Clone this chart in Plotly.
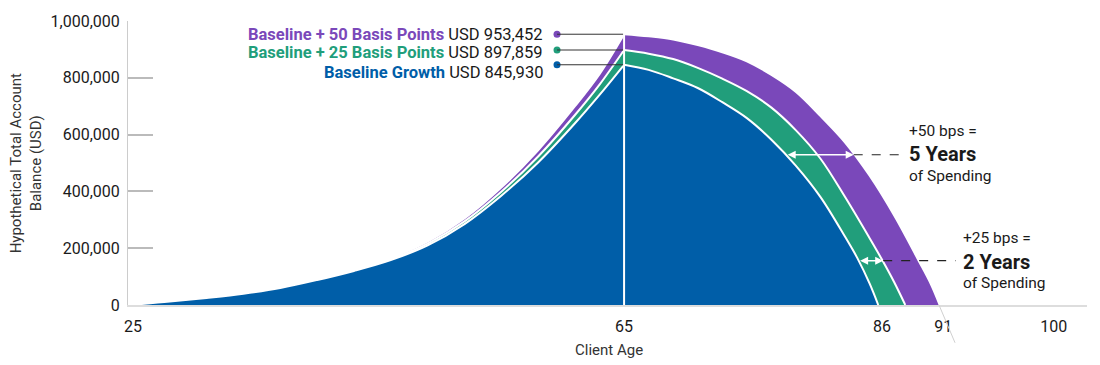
import plotly.graph_objects as go

# ---------------- data ----------------
acc_ages = [25, 28, 31, 34, 37, 40, 43, 46, 49, 52, 55, 58, 61, 63, 65]
acc_base = [1000, 12000, 25000, 40000, 60000, 88000, 120000, 158000, 210000,
            285000, 385000, 502000, 640000, 740000, 845930]
acc_25 = [1000, 12100, 25300, 40600, 61100, 89700, 122600, 162000, 216300,
          294500, 399000, 523000, 669000, 776000, 897859]
acc_50 = [1000, 12200, 25600, 41200, 62300, 91500, 125300, 166000, 222800,
          304500, 413500, 545000, 700000, 813000, 953452]

dec_base_ages = [65, 67, 69, 71, 73, 75, 77, 79, 81, 83, 84, 85, 85.7]
dec_base = [845930, 828000, 798000, 764000, 714000, 658000, 582000, 490000,
            380000, 240000, 165000, 75000, 0]
dec_25_ages = [65, 67, 69, 71, 73, 75, 77, 79, 81, 83, 85, 86, 87, 87.9]
dec_25 = [897859, 885000, 866000, 835000, 797000, 753000, 695000, 615000,
          515000, 380000, 235000, 160000, 80000, 0]
dec_50_ages = [65, 67, 69, 71, 73, 75, 77, 79, 81, 83, 85, 87, 89, 90, 90.7]
dec_50 = [953452, 946000, 935000, 915000, 890000, 858000, 810000, 750000,
          665000, 572000, 455000, 315000, 155000, 72000, 0]

x_ticks = [25, 65, 86, 91, 100]
y_ticks = [0, 200000, 400000, 600000, 800000, 1000000]

series_names = ["Baseline + 50 Basis Points", "Baseline + 25 Basis Points", "Baseline Growth"]
series_end_values = [953452, 897859, 845930]
series_labels = ["USD 953,452", "USD 897,859", "USD 845,930"]

# ---------------- style ----------------
BLUE = "#005EA8"
GREEN = "#219E7B"
PURPLE = "#7A48BA"
FONT = "Roboto"
TXT = "#1a1a1a"

fig = go.Figure()

groups = [
    (PURPLE, acc_ages, acc_50, dec_50_ages, dec_50),
    (GREEN, acc_ages, acc_25, dec_25_ages, dec_25),
    (BLUE, acc_ages, acc_base, dec_base_ages, dec_base),
]
for color, ax_, ay_, dx_, dy_ in groups:
    for xs, ys in ((ax_, ay_), (dx_, dy_)):
        fig.add_trace(go.Scatter(
            x=xs, y=ys, mode="lines", fill="tozeroy", fillcolor=color,
            line=dict(color="white", width=2, shape="spline", smoothing=1.0),
            hoverinfo="skip", showlegend=False,
        ))

# dots for the labels
dot_x = 59.54
fig.add_trace(go.Scatter(
    x=[dot_x] * 3, y=series_end_values, mode="markers",
    marker=dict(color=[PURPLE, GREEN, BLUE], size=7),
    hoverinfo="skip", showlegend=False,
))

shapes = []
# leader lines
for v in series_end_values:
    shapes.append(dict(type="line", xref="x", yref="y", x0=dot_x, x1=65, y0=v, y1=v,
                       line=dict(color="#333333", width=1)))
# white vertical line at 65
shapes.append(dict(type="line", xref="x", yref="y", x0=65, x1=65, y0=0, y1=975000,
                   line=dict(color="white", width=2)))
# dashed connectors
shapes.append(dict(type="line", xref="x", yref="y", x0=83.7, x1=87.7, y0=529000, y1=529000,
                   line=dict(color="#222222", width=1.2, dash="dash")))
shapes.append(dict(type="line", xref="x", yref="y", x0=86.1, x1=92.0, y0=156000, y1=156000,
                   line=dict(color="#222222", width=1.2, dash="dash")))
# faint stray line below axis near 91
shapes.append(dict(type="line", xref="paper", yref="paper", x0=0.8457, x1=0.8624, y0=0, y1=-0.133,
                   line=dict(color="#d0d0d0", width=1)))

annotations = []
label_y = [954000, 888000, 818000]
for name, lab, col, ly in zip(series_names, series_labels, [PURPLE, GREEN, BLUE], label_y):
    annotations.append(dict(
        x=58.56, y=ly, xref="x", yref="y", xanchor="right", yanchor="middle",
        showarrow=False,
        text=f"<b><span style='color:{col}'>{name}</span></b> {lab}",
        font=dict(family=FONT, size=16.5, color=TXT),
    ))

# double-headed arrows
for x0, x1, yv in [(78.2, 83.7, 529000), (84.1, 86.1, 156000)]:
    annotations.append(dict(
        x=x1, y=yv, ax=x0, ay=yv, xref="x", yref="y", axref="x", ayref="y",
        text="", showarrow=True, arrowside="end+start", arrowhead=2,
        arrowsize=1, arrowwidth=1.6, arrowcolor="white", standoff=0, startstandoff=0,
    ))

# right-side texts
for xl, ys, big in [(88.0, (614000, 530000, 456000), ("+50 bps =", "5 Years")),
                    (92.4, (235000, 151000, 77000), ("+25 bps =", "2 Years"))]:
    annotations.append(dict(x=xl, y=ys[0], xref="x", yref="y", xanchor="left", yanchor="middle",
                            showarrow=False, text=big[0],
                            font=dict(family=FONT, size=15.5, color=TXT)))
    annotations.append(dict(x=xl, y=ys[1], xref="x", yref="y", xanchor="left", yanchor="middle",
                            showarrow=False, text=f"<b>{big[1]}</b>",
                            font=dict(family=FONT, size=20, color=TXT)))
    annotations.append(dict(x=xl, y=ys[2], xref="x", yref="y", xanchor="left", yanchor="middle",
                            showarrow=False, text="of Spending",
                            font=dict(family=FONT, size=15.5, color=TXT)))

# axis titles
annotations.append(dict(x=-0.106, y=0.50, xref="paper", yref="paper", textangle=-90,
                        xanchor="center", yanchor="middle",
                        showarrow=False, text="Hypothetical Total Account<br>Balance (USD)",
                        font=dict(family=FONT, size=15, color="#333333")))
annotations.append(dict(x=0.502, y=-0.158, xref="paper", yref="paper",
                        xanchor="center", yanchor="middle",
                        showarrow=False, text="Client Age",
                        font=dict(family=FONT, size=15, color="#333333")))

fig.update_layout(
    width=1100, height=365, autosize=False,
    margin=dict(l=128, r=13, t=21, b=60),
    paper_bgcolor="white", plot_bgcolor="white",
    font=dict(family=FONT, color=TXT),
    shapes=shapes, annotations=annotations,
    xaxis=dict(range=[24.6, 102.7], tickvals=x_ticks, showgrid=False, zeroline=False,
               showline=True, linecolor="#dddddd", linewidth=2, ticks="",
               tickfont=dict(family=FONT, size=16, color=TXT), ticklabelstandoff=6),
    yaxis=dict(range=[0, 1000000], tickvals=y_ticks, tickformat=",", showgrid=False,
               zeroline=False, showline=True, linecolor="#cccccc", linewidth=1,
               ticks="inside", ticklen=25, tickcolor="#bbbbbb", tickwidth=2,
               tickfont=dict(family=FONT, size=16, color=TXT), ticklabelstandoff=4),
)

fig.write_html("out.html", config={"displayModeBar": False},
               post_script="document.body.style.margin='0';")
